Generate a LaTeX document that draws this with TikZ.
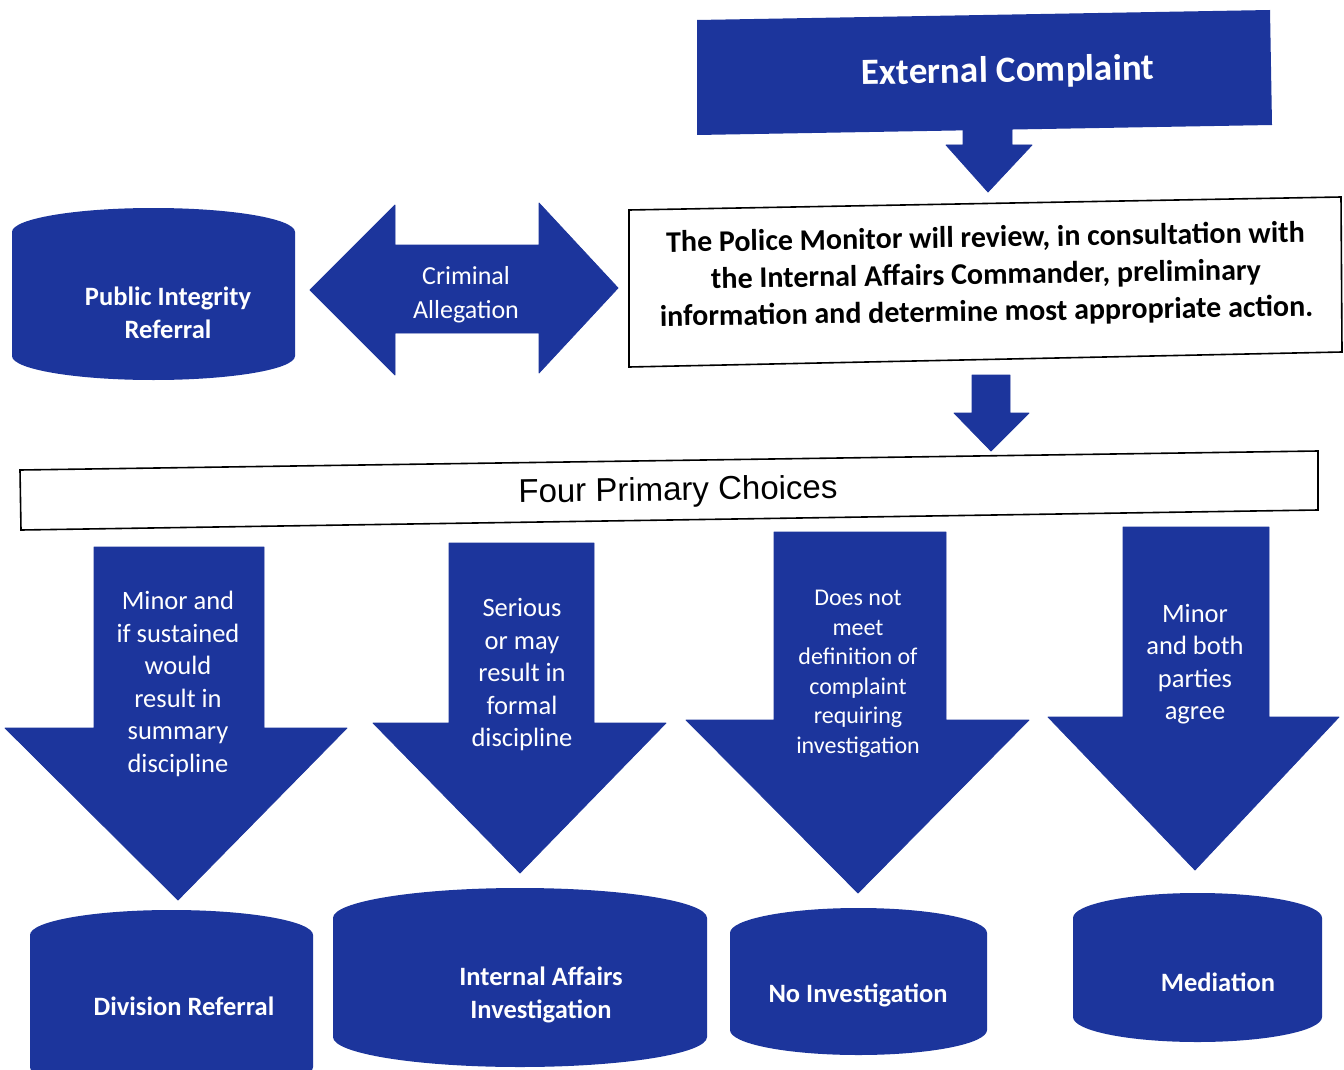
\documentclass[tikz,border=0pt]{standalone}
\usepackage{fontspec}
\setmainfont{Carlito}
\newfontfamily\arialf{Liberation Sans}
\definecolor{pblue}{RGB}{28,53,156}
\newcommand{\fsz}[2]{\fontsize{#1}{#2}\selectfont}
\newcommand{\cylpath}[5]{%
  \fill[pblue] (#1,#2+#5) arc[start angle=180,end angle=360,x radius={(#3-#1)/2},y radius=#5]
    -- (#3,#4-#5) arc[start angle=0,end angle=180,x radius={(#3-#1)/2},y radius=#5] -- cycle;}
\begin{document}
\begin{tikzpicture}[x=1pt,y=-1pt,
  blk/.style={fill=pblue,draw=pblue,line width=0.8pt,line join=round},
  box/.style={fill=white,draw=black,line width=1.6pt},
  wt/.style={text=white,align=center,inner sep=0pt},
  arrtxt/.style={wt,font=\fsz{26.5}{32.5}},
  cyltxt/.style={wt,font=\fsz{26.5}{33}\bfseries}]
\useasboundingbox[fill=white] (0,0) rectangle (1344,1070);

% External complaint
\fill[pblue] (697,20) -- (1270,10) -- (1272,125) -- (697,135) -- cycle;
\node[wt,font=\fsz{37}{40}\bfseries,rotate=1] (ext) at (1008,72) {External Complaint};
\draw[blk] (963,128) -- (1012,128) -- (1012,145) -- (1032,145) -- (988,192) -- (946,145) -- (963,145) -- cycle;

% Police monitor box
\draw[box] (629,210) -- (1341,197) -- (1342,352) -- (629,367) -- cycle;
\node[align=center,inner sep=0pt,font=\fsz{30}{37}\bfseries,rotate=0.9] (pm) at (986,276)
 {The Police Monitor will review, in consultation with\\the Internal Affairs Commander, preliminary\\information and determine most appropriate action.};
\draw[blk] (972,375) -- (1010,375) -- (1010,413) -- (1029,413) -- (991,451) -- (954,413) -- (972,413) -- cycle;

% Four primary choices
\draw[box] (20,470) -- (1318,451) -- (1318,510) -- (21,530) -- cycle;
\node[inner sep=0pt,font=\arialf\fsz{33}{36},rotate=0.8] (four) at (678,492) {Four Primary Choices};

% Public integrity referral
\cylpath{12}{208}{295}{380}{24}
\node[cyltxt] (pir) at (168,313) {Public Integrity\\Referral};

% Criminal allegation double arrow
\draw[blk] (310,290) -- (395,205) -- (395,245) -- (539,245) -- (539,203) -- (618,288)
  -- (539,373) -- (539,333) -- (395,333) -- (395,375) -- cycle;
\node[wt,font=\fsz{26}{34}] (crim) at (466,295) {Criminal\\Allegation};

% Four down arrows
\draw[blk] (94,547) -- (264,547) -- (264,728) -- (347,728) -- (178,900) -- (5,728) -- (94,728) -- cycle;
\node[arrtxt] (a1) at (178,684) {Minor and\\if sustained\\would\\result in\\summary\\discipline};

\draw[blk] (449,543) -- (594,543) -- (594,723) -- (666,723) -- (520,873) -- (373,723) -- (449,723) -- cycle;
\node[arrtxt] (a2) at (522,675) {Serious\\or may\\result in\\formal\\discipline};

\draw[blk] (774,532) -- (946,532) -- (946,720) -- (1029,720) -- (858,893) -- (686,720) -- (774,720) -- cycle;
\node[wt,font=\fsz{24}{29.5}] (a3) at (858,674) {Does not\\meet\\definition of\\complaint\\requiring\\investigation};

\draw[blk] (1123,527) -- (1269,527) -- (1269,717) -- (1339,717) -- (1195,870) -- (1048,717) -- (1123,717) -- cycle;
\node[arrtxt] (a4) at (1195,664) {Minor\\and both\\parties\\agree};

% Bottom cylinders
\cylpath{30}{910}{313}{1092}{25}
\node[cyltxt] (c1) at (184,1006) {Division Referral};
\cylpath{333}{888}{707}{1067}{30}
\node[cyltxt] (c2) at (541,995) {Internal Affairs\\Investigation};
\cylpath{730}{908}{987}{1055}{25}
\node[cyltxt] (c3) at (858,995) {No Investigation};
\cylpath{1073}{893}{1322}{1042}{25}
\node[cyltxt] (c4) at (1218,982) {Mediation};
\end{tikzpicture}
\end{document}
